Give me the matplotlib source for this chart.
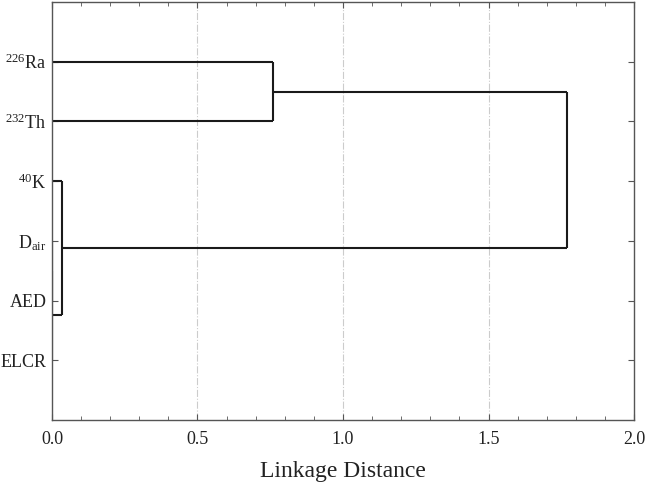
import matplotlib
matplotlib.use('Agg')
import matplotlib.pyplot as plt
from matplotlib.ticker import MultipleLocator

plt.rcParams['font.family'] = ['Liberation Serif', 'DejaVu Serif']
plt.rcParams['mathtext.fontset'] = 'custom'
plt.rcParams['mathtext.rm'] = 'Liberation Serif'
plt.rcParams['mathtext.it'] = 'Liberation Serif'
plt.rcParams['mathtext.default'] = 'regular'

# leaves, top to bottom
leaves = ['$^{226}$Ra', '$^{232}$Th', '$^{40}$K', 'D$_{air}$', 'AED', 'ELCR']
# merges: (left member, right member, linkage distance); ints are leaf indices, strings are cluster names
merges = [
    (3, 4, 0.0, 'c1'),
    ('c1', 5, 0.0, 'c2'),
    (2, 'c2', 0.034, 'c3'),
    (0, 1, 0.76, 'c4'),
    ('c4', 'c3', 1.77, 'c5'),
]

fig = plt.figure(figsize=(6.45, 4.9), dpi=100)
ax = fig.add_axes([0.0806, 0.143, 0.9024, 0.853])

# position and height of each node
pos = {i: i + 1 for i in range(len(leaves))}
height = {i: 0.0 for i in range(len(leaves))}
line_kw = dict(color='#1a1a1a', lw=1.5, solid_capstyle='butt')
for a, b, d, name in merges:
    for m in (a, b):
        ax.plot([height[m], d], [pos[m], pos[m]], **line_kw)
    ax.plot([d, d], [pos[a], pos[b]], **line_kw)
    pos[name] = (pos[a] + pos[b]) / 2
    height[name] = d

ax.set_xlim(0, 2.0)
ax.set_ylim(7, 0)
ax.set_xticks([0, 0.5, 1.0, 1.5, 2.0])
ax.set_xticklabels(['0.0', '0.5', '1.0', '1.5', '2.0'])
ax.xaxis.set_minor_locator(MultipleLocator(0.1))
ax.set_yticks(range(1, len(leaves) + 1))
ax.set_yticklabels(leaves)

ax.tick_params(axis='both', which='both', direction='in', top=True, right=True,
               color='#555555', labelsize=13, labelcolor='#222222')
ax.tick_params(axis='both', which='major', length=4)
ax.tick_params(axis='x', which='minor', length=3)
ax.tick_params(axis='x', pad=8)
ax.tick_params(axis='y', pad=4)

for x in [0.5, 1.0, 1.5]:
    ax.axvline(x, color='#cccccc', lw=0.8, ls='-.', zorder=0)

for s in ax.spines.values():
    s.set_color('#555555')
    s.set_linewidth(1.0)

ax.set_xlabel('Linkage Distance', fontsize=17, color='#222222', labelpad=9)

fig.savefig('out.png', dpi=100)
